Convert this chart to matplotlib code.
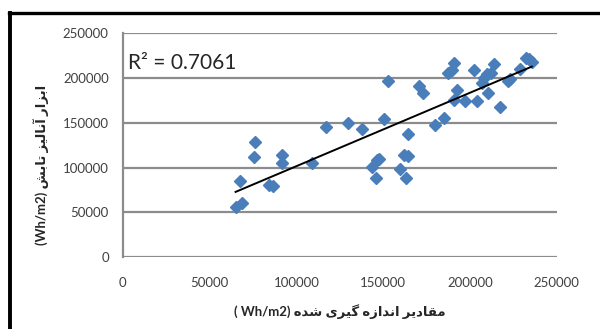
import numpy as np
import matplotlib
matplotlib.use("Agg")
import matplotlib.pyplot as plt
from matplotlib.lines import Line2D

# ─── Data ───────────────────────────────────────────────────────────────────────

measured = [
    65000, 68500, 67600, 75600, 76200, 84400, 86800, 91600, 91600, 108900,
    117100, 129500, 137700, 150500, 152600, 143400, 146300, 147800, 145900,
    159700, 162000, 164500, 163200, 164500, 170900, 172800, 179900, 185300,
    187600, 189500, 191000, 192400, 190800, 197200, 202400, 204300, 206800,
    208300, 210000, 212000, 210600, 213900, 217300, 222100, 223100, 228900,
    232300, 234000, 235600,
]
predicted = [
    55700, 61000, 85400, 111400, 128200, 80900, 79500, 114000, 105400, 104800,
    144900, 150200, 143000, 154500, 196800, 100600, 108400, 109200, 88400,
    98000, 114400, 112900, 88400, 137100, 190900, 182800, 147100, 154900,
    205700, 208800, 216900, 187200, 175300, 174200, 209500, 174500, 194600,
    199500, 204000, 205700, 182800, 215400, 167200, 196800, 198400, 209900,
    222900, 220700, 218000,
]
r2_label = "R\u00b2 = 0.7061"
ticks = [0, 50000, 100000, 150000, 200000, 250000]
xlabel_fa = "مقادیر اندازه گیری شده"
ylabel_fa = "ابزار آنالیز تابش"
unit = "Wh/m2"

# ─── Persian shaping (matplotlib has no text shaping) ───────────────────────────

# isolated, final, initial, medial
FORMS = {
    "\u0627": ("\uFE8D", "\uFE8E", None, None),
    "\u0622": ("\uFE81", "\uFE82", None, None),
    "\u0628": ("\uFE8F", "\uFE90", "\uFE91", "\uFE92"),
    "\u062A": ("\uFE95", "\uFE96", "\uFE97", "\uFE98"),
    "\u062F": ("\uFEA9", "\uFEAA", None, None),
    "\u0631": ("\uFEAD", "\uFEAE", None, None),
    "\u0632": ("\uFEAF", "\uFEB0", None, None),
    "\u0634": ("\uFEB5", "\uFEB6", "\uFEB7", "\uFEB8"),
    "\u0642": ("\uFED5", "\uFED6", "\uFED7", "\uFED8"),
    "\u0644": ("\uFEDD", "\uFEDE", "\uFEDF", "\uFEE0"),
    "\u0645": ("\uFEE1", "\uFEE2", "\uFEE3", "\uFEE4"),
    "\u0646": ("\uFEE5", "\uFEE6", "\uFEE7", "\uFEE8"),
    "\u0647": ("\uFEE9", "\uFEEA", "\uFEEB", "\uFEEC"),
    "\u06CC": ("\uFBFC", "\uFBFD", "\uFBFE", "\uFBFF"),
    "\u06AF": ("\uFB92", "\uFB93", "\uFB94", "\uFB95"),
}


def fa(text):
    """Return Persian text in shaped, visual (left-to-right) order."""
    out = []
    for i, ch in enumerate(text):
        if ch not in FORMS:
            out.append(ch)
            continue
        prev = text[i - 1] if i > 0 else ""
        nxt = text[i + 1] if i + 1 < len(text) else ""
        join_prev = prev in FORMS and FORMS[prev][2] is not None
        join_next = nxt in FORMS and FORMS[ch][2] is not None
        iso, fin, ini, med = FORMS[ch]
        if join_prev and join_next:
            out.append(med)
        elif join_prev:
            out.append(fin)
        elif join_next:
            out.append(ini)
        else:
            out.append(iso)
    return "".join(reversed(out))


# ─── Plot ────────────────────────────────────────────────────────────────────────

FONT = ["Lato", "DejaVu Sans"]
plt.rcParams["font.family"] = FONT

fig = plt.figure(figsize=(6.0, 3.29), dpi=100)
ax = fig.add_axes([0.2045, 0.218, 0.7235, 0.681])

grid_c = "#8c8c8c"
for t in ticks:
    ax.axhline(t, color=grid_c, lw=1.6, zorder=1)

x = np.array(measured)
y = np.array(predicted)
ax.plot(x, y, "D", color="#4a7ebb", ms=6.5, mec="#4a7ebb", zorder=3)

slope, icpt = np.polyfit(x, y, 1)
xs = np.array([x.min(), x.max()])
ax.plot(xs, slope * xs + icpt, color="black", lw=1.4, zorder=4)

ax.set_xlim(0, 250000)
ax.set_ylim(0, 250000)
ax.set_xticks(ticks)
ax.set_yticks(ticks)
ax.set_xticklabels([str(t) for t in ticks])
ax.set_yticklabels([str(t) for t in ticks])
ax.tick_params(length=0, labelsize=9.5, labelcolor="#404040")
ax.tick_params(axis="x", pad=14)
ax.tick_params(axis="y", pad=10)
for side in ["top", "right", "bottom"]:
    ax.spines[side].set_visible(False)
ax.spines["left"].set_color(grid_c)
ax.spines["left"].set_linewidth(1.6)

ax.text(0.012, 0.865, r2_label, transform=ax.transAxes, fontsize=15,
        color="#262626", va="center", ha="left")

fig.text(0.567, 0.052, "( " + unit + ") " + fa(xlabel_fa), ha="center",
         va="center", fontsize=9.5, fontweight="bold", color="#262626")
fig.text(0.068, 0.50, "(" + unit + ") " + fa(ylabel_fa), ha="center",
         va="center", rotation=90, fontsize=9.5, fontweight="bold",
         color="#262626")

# black frame on the top and left edges
fig.add_artist(Line2D([0.015, 1.0], [0.96, 0.96], transform=fig.transFigure,
                      color="black", lw=2.4))
fig.add_artist(Line2D([0.017, 0.017], [0.0, 0.962], transform=fig.transFigure,
                      color="black", lw=2.8))

fig.savefig("out.png", dpi=100, facecolor="white")
